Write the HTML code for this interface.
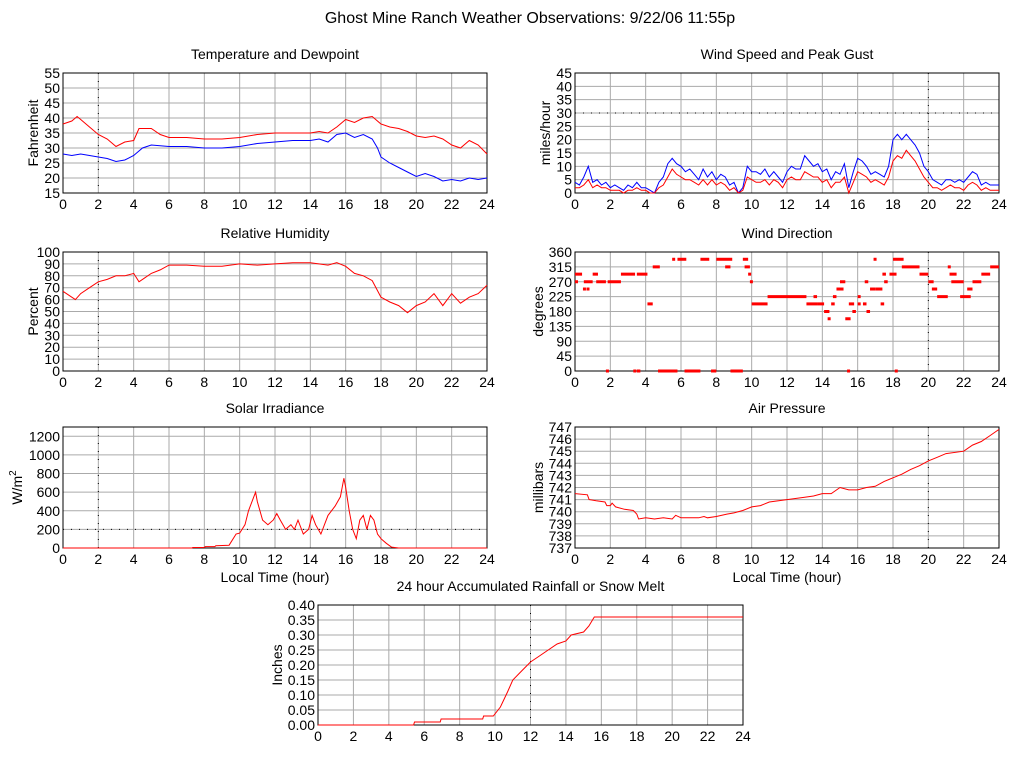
<!DOCTYPE html>
<html><head><meta charset="utf-8"><style>
html,body{margin:0;padding:0;background:#fff;}
svg{display:block;font-family:"Liberation Sans",sans-serif;}
</style></head><body>
<svg id="c" width="1024" height="768" xmlns="http://www.w3.org/2000/svg">
<text x="530" y="23" font-size="16" text-anchor="middle">Ghost Mine Ranch Weather Observations: 9/22/06 11:55p</text>
</svg>
<script>
// ---- data ----
const tempT=[0,0.5,0.8,1,1.5,2,2.5,3,3.5,4,4.3,4.5,5,5.5,6,7,8,9,10,11,12,13,14,14.5,15,15.5,16,16.5,17,17.5,18,18.5,19,19.5,20,20.5,21,21.5,22,22.5,23,23.5,24];
const tempV=[38,39,40.5,39.5,37,34.5,33,30.5,32,32.5,36.5,36.5,36.5,34.5,33.5,33.5,33,33,33.5,34.5,35,35,35,35.5,35,37,39.5,38.5,40,40.5,38,37,36.5,35.5,34,33.5,34,33,31,30,32.5,31,28];
const dewT=[0,0.5,1,1.5,2,2.5,3,3.5,4,4.5,5,6,7,8,9,10,11,12,13,14,14.5,15,15.5,16,16.5,17,17.5,17.8,18,18.5,19,19.5,20,20.5,21,21.5,22,22.5,23,23.5,24];
const dewV=[28,27.5,28,27.5,27,26.5,25.5,26,27.5,30,31,30.5,30.5,30,30,30.5,31.5,32,32.5,32.5,33,32,34.5,35,33.5,34.5,33,30,27,25,23.5,22,20.5,21.5,20.5,19,19.5,19,20,19.5,20];
const rhT=[0,0.5,0.7,1,1.5,2,2.5,3,3.5,4,4.3,4.6,5,5.5,6,7,8,9,10,11,12,13,14,15,15.5,16,16.5,17,17.5,18,18.5,19,19.5,20,20.5,21,21.5,22,22.5,23,23.5,24];
const rhV=[67,62,60,65,70,75,77,80,80,82,75,78,82,85,89,89,88,88,90,89,90,91,91,89,91,88,82,80,76,62,58,55,49,55,58,65,55,65,57,62,65,72];
const gustV=[4,3,6,10,4,5,3,4,2,3,2,1,3,2,4,2,2,1,0,4,6,11,13,11,10,8,9,7,5,9,6,8,5,7,6,3,4,0,2,10,8,8,7,9,6,8,6,4,8,10,9,9,14,12,10,11,8,9,5,8,7,11,2,8,13,12,10,7,8,7,6,10,20,22,20,22,20,18,15,10,8,5,4,3,5,5,4,5,4,6,8,7,3,4,3,3,3];
const windV=[2,2,3,5,2,3,2,2,1,1,1,0,1,1,2,1,1,0,0,2,3,6,9,7,6,5,5,4,3,5,3,5,3,4,3,1,2,0,1,6,5,4,4,5,3,5,4,2,5,6,5,5,8,7,6,6,4,5,2,4,4,6,0,4,8,7,6,4,5,4,3,6,12,14,13,16,14,12,9,6,4,2,2,1,2,3,2,2,1,3,4,3,1,2,1,1,1];
const dirStart=[0,0,0.45,0.65,0.5,1.0,1.2,1.75,1.85,2.6,3.3,3.5,3.5,4.1,4.4,4.7,5.5,5.8,6.2,7.1,7.7,8.0,8.5,8.8,9.5,9.6,9.8,9.9,10,10.9,13.1,13.5,13.7,14.1,14.3,14.5,14.6,14.8,15.0,15.4,15.3,15.5,15.7,16,16,16.3,16.4,16.5,16.7,16.9,17.0,17.3,17.4,17.5,17.8,18.0,18.1,18.5,19.5,20,20.2,20.5,21.1,21.2,21.3,21.8,22.2,22.5,23.0,23.5];
const dirEnd=[0.4,0.1,0.5,0.75,1.0,1.3,1.75,1.85,2.6,3.4,3.4,3.7,4.1,4.4,4.8,5.8,5.6,6.3,7.1,7.6,8.0,8.9,8.8,9.5,9.8,9.9,9.9,10,10.9,13.1,13.7,13.7,14.1,14.4,14.4,14.7,14.8,15.2,15.3,15.5,15.6,15.8,15.9,16.1,16.1,16.5,16.6,16.7,17.0,17.0,17.4,17.5,17.6,17.7,18.2,18.6,18.2,19.5,20,20.3,20.5,21.1,21.2,21.6,22,22.4,22.5,23.0,23.5,24];
const dirV=[293,270,248,248,270,293,270,0,270,293,0,0,293,203,315,0,338,338,0,338,0,338,315,0,338,315,293,270,203,225,203,225,203,180,158,203,225,248,270,0,158,203,180,203,225,203,270,180,248,338,248,203,293,270,293,338,0,315,293,270,248,225,315,293,270,225,248,270,293,315];
const solT=[0,7.3,7.35,8,8.05,8.6,8.65,9.4,9.8,10,10.3,10.5,10.8,10.9,11,11.3,11.6,11.9,12.1,12.3,12.6,12.9,13.1,13.3,13.6,13.9,14.1,14.3,14.6,15.0,15.4,15.7,15.9,16.0,16.2,16.4,16.6,16.8,17,17.2,17.4,17.6,17.8,18,18.3,18.6,19,24];
const solV=[0,0,5,5,15,15,25,30,150,160,250,400,550,600,500,300,250,300,370,300,200,250,200,300,150,200,350,250,150,350,450,550,750,650,400,200,100,300,350,200,350,300,150,100,50,10,0,0];
const presT=[0,0.7,0.8,1.2,1.7,1.8,2,2.1,2.3,2.8,3.3,3.5,3.6,4,4.5,5,5.5,5.7,6,7,7.3,7.5,8,8.6,9,9.5,10,10.5,11,12,13,13.5,14,14.5,15,15.5,16,16.5,17,17.5,18,18.5,19,19.5,20,20.5,21,22,22.5,23,23.5,24];
const presV=[741.5,741.4,741,740.9,740.8,740.5,740.5,740.7,740.4,740.2,740.1,739.8,739.4,739.5,739.4,739.5,739.4,739.7,739.5,739.5,739.6,739.5,739.6,739.8,739.9,740.1,740.4,740.5,740.8,741.0,741.2,741.3,741.5,741.5,742,741.8,741.8,742.0,742.1,742.5,742.8,743.1,743.5,743.8,744.2,744.5,744.8,745.0,745.5,745.8,746.3,746.8];
const rainT=[0,5.4,5.45,6.9,6.95,9.3,9.35,9.9,10.3,10.7,11,11.5,12,12.5,13,13.5,14,14.3,15,15.3,15.6,24];
const rainV=[0,0,0.01,0.01,0.02,0.02,0.03,0.03,0.06,0.11,0.15,0.18,0.21,0.23,0.25,0.27,0.28,0.30,0.31,0.33,0.36,0.36];
const xTicks=[0,2,4,6,8,10,12,14,16,18,20,22,24];

// ---- drawing ----
const svg=document.getElementById('c');
const NS='http://www.w3.org/2000/svg';
function mk(tag,attrs,parent){const e=document.createElementNS(NS,tag);for(const k in attrs)e.setAttribute(k,attrs[k]);(parent||svg).appendChild(e);return e;}
function panel(o){
  const g=mk('g',{});
  
  
  const sx=v=>o.x0+(v/24)*(o.x1-o.x0);
  const sy=v=>o.y1-(v-o.ymin)/(o.ymax-o.ymin)*(o.y1-o.y0);
  o.sx=sx;o.sy=sy;
  o.yTicks.forEach(t=>{const y=sy(t);
    const l=mk('line',{x1:o.x0,x2:o.x1,y1:y,y2:y,stroke:'#aaa','stroke-width':1},g);
    
    const tx=mk('text',{x:o.x0-3,y:y+5,'font-size':14,'text-anchor':'end'},g);tx.textContent=o.fmt?o.fmt(t):t;
    });
  xTicks.forEach(t=>{const x=sx(t);
    const l=mk('line',{x1:x,x2:x,y1:o.y0,y2:o.y1,stroke:'#aaa','stroke-width':1},g);
    
    const tx=mk('text',{x:x,y:o.y1+16,'font-size':14,'text-anchor':'middle'},g);tx.textContent=t;
    });
  if(o.dotX!=null){const x=sx(o.dotX);mk('line',{x1:x,x2:x,y1:o.y0,y2:o.y1,stroke:'#000','stroke-width':1,'stroke-dasharray':'1,7'},g);}
  if(o.dotY!=null){const y=sy(o.dotY);mk('line',{x1:o.x0,x2:o.x1,y1:y,y2:y,stroke:'#000','stroke-width':1,'stroke-dasharray':'1,7'},g);}
  const b=mk('rect',{x:o.x0,y:o.y0,width:o.x1-o.x0,height:o.y1-o.y0,fill:'none',stroke:'#000','stroke-width':1},g);
  
  const tt=mk('text',{x:(o.x0+o.x1)/2,y:o.y0-14,'font-size':14,'text-anchor':'middle'},g);tt.textContent=o.title;
  
  const cy=(o.y0+o.y1)/2;
  const yl=mk('text',{x:0,y:0,'font-size':14,'text-anchor':'middle',transform:`translate(${o.ylx},${cy}) rotate(-90)`},g);
  yl.innerHTML=o.ylabel;
  
  if(o.xlabel){const xl=mk('text',{x:(o.x0+o.x1)/2,y:o.y1+34,'font-size':14,'text-anchor':'middle'},g);xl.textContent='Local Time (hour)';
    }
  o.g=g;return o;
}
function line(o,ts,vs,color,name){
  const pts=ts.map((t,i)=>o.sx(t).toFixed(1)+','+o.sy(vs[i]).toFixed(1)).join(' ');
  const p=mk('polyline',{points:pts,fill:'none',stroke:color,'stroke-width':1},o.g);
  
  
}
const r5=[15,20,25,30,35,40,45,50,55];
const p1=panel({name:'temperature-panel',title:'Temperature and Dewpoint',x0:63,x1:487,y0:73,y1:193,ymin:15,ymax:55,yTicks:r5,ylabel:'Fahrenheit',ylx:38,dotX:2});
line(p1,tempT,tempV,'#f00','temperature-line');
line(p1,dewT,dewV,'#00f','dewpoint-line');
const p2=panel({name:'wind-speed-panel',title:'Wind Speed and Peak Gust',x0:575,x1:999,y0:73,y1:193,ymin:0,ymax:45,yTicks:[0,5,10,15,20,25,30,35,40,45],ylabel:'miles/hour',ylx:550,dotX:20,dotY:30});
const qT=gustV.map((v,i)=>i*0.25);
line(p2,qT,gustV,'#00f','gust-line');
line(p2,qT,windV,'#f00','wind-speed-line');
const p3=panel({name:'humidity-panel',title:'Relative Humidity',x0:63,x1:487,y0:252,y1:371,ymin:0,ymax:100,yTicks:[0,10,20,30,40,50,60,70,80,90,100],ylabel:'Percent',ylx:38,dotX:2});
line(p3,rhT,rhV,'#f00','humidity-line');
const p4=panel({name:'wind-direction-panel',title:'Wind Direction',x0:575,x1:999,y0:252,y1:371,ymin:0,ymax:360,yTicks:[0,45,90,135,180,225,270,315,360],ylabel:'degrees',ylx:543,dotX:20});
dirV.forEach((d,i)=>{const x=p4.sx(dirStart[i]),w=Math.max(3,p4.sx(dirEnd[i])-x);
  const r=mk('rect',{x:x,y:p4.sy(d)-1.5,width:w,height:3,fill:'#f00'},p4.g);
  
  });
const p5=panel({name:'solar-panel',title:'Solar Irradiance',x0:63,x1:487,y0:427,y1:548,ymin:0,ymax:1300,yTicks:[0,200,400,600,800,1000,1200],ylabel:'W/m<tspan dy="-6" font-size="10">2</tspan>',ylx:22,dotX:2,dotY:200,xlabel:true});
line(p5,solT,solV,'#f00','solar-line');
const p6=panel({name:'pressure-panel',title:'Air Pressure',x0:575,x1:999,y0:427,y1:548,ymin:737,ymax:747,yTicks:[737,738,739,740,741,742,743,744,745,746,747],ylabel:'millibars',ylx:543,dotX:20,xlabel:true});
line(p6,presT,presV,'#f00','pressure-line');
const p7=panel({name:'rainfall-panel',title:'24 hour Accumulated Rainfall or Snow Melt',x0:318,x1:743,y0:605,y1:725,ymin:0,ymax:0.4,yTicks:[0,0.05,0.1,0.15,0.2,0.25,0.3,0.35,0.4],fmt:v=>v.toFixed(2),ylabel:'Inches',ylx:282,dotX:12});
line(p7,rainT,rainV,'#f00','rainfall-line');
</script>
</body></html>
